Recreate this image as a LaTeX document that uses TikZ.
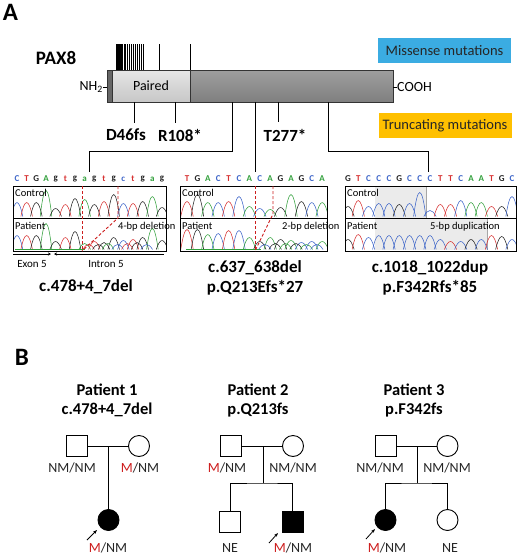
\documentclass[tikz,border=0pt]{standalone}
\usepackage{fontspec}
\setmainfont{Carlito}
\usetikzlibrary{arrows.meta}

\definecolor{seqA}{RGB}{50,160,60}
\definecolor{seqC}{RGB}{60,100,200}
\definecolor{seqG}{RGB}{35,35,35}
\definecolor{seqT}{RGB}{215,50,50}
\definecolor{missblue}{RGB}{59,172,226}
\definecolor{truncorange}{RGB}{255,192,0}
\definecolor{mutred}{RGB}{205,30,30}

\newcommand\mutM{\textcolor{mutred}{M}}

% one trace of a chromatogram: x of first peak, baseline, spacing, colour/height list
\newcommand\chromtrace[4]{%
  \foreach \pcol/\pht [count=\i] in {#4}{
    \pgfmathsetmacro\px{#1+(\i-1)*#3}
    \draw[\pcol, line width=0.55pt] (\px-0.6*#3,#2) .. controls (\px-0.2*#3,#2-1.33*\pht) and (\px+0.2*#3,#2-1.33*\pht) .. (\px+0.6*#3,#2);
  }}

% the called bases above a chromatogram
\newcommand\seqletters[5]{%
  \foreach \lcol/\lchar [count=\i] in {#5}
    \node[seqbase, text=\lcol] (#1\i) at ({#2+(\i-1)*#4},#3) {\lchar};}

\tikzset{
  seqbase/.style={font=\fontsize{9}{10}\selectfont\bfseries, inner sep=0pt},
  panellabel/.style={font=\fontsize{25}{27}\selectfont\bfseries},
  mutlabel/.style={font=\fontsize{17}{19}\selectfont\bfseries},
  hgvs/.style={font=\fontsize{17}{19}\selectfont\bfseries},
  tracelabel/.style={font=\fontsize{10.5}{12}\selectfont, inner sep=1pt},
  legendbox/.style={minimum width=133pt, minimum height=25pt, inner sep=0pt, font=\fontsize{14.5}{16}\selectfont, text=black!85},
  barline/.style={draw=black!80, line width=1pt},
  stick/.style={line width=0.8pt},
  connector/.style={line width=1pt},
  cut/.style={mutred, dash pattern=on 3pt off 2pt, line width=0.9pt},
  chrombox/.style={draw, line width=1pt},
  head/.style={font=\fontsize{16.5}{18}\selectfont\bfseries},
  geno/.style={font=\fontsize{14}{16}\selectfont, text=black!85},
  male/.style={draw, rectangle, minimum size=21pt, inner sep=0pt, line width=0.9pt},
  female/.style={draw, circle, minimum size=21pt, inner sep=0pt, line width=0.9pt},
  affected/.style={fill=black},
  ped/.style={line width=1pt},
  proband/.style={-{Stealth[length=4pt,width=3pt]}, line width=0.8pt}
}

\begin{document}
\begin{tikzpicture}[x=1pt,y=-1pt]
\useasboundingbox (0,0) rectangle (520,555);

%%% panel A
\node[panellabel] (A) at (10.5,12) {A};
\node[font=\fontsize{19}{21}\selectfont\bfseries] (pax) at (56,58) {PAX8};

% protein
\draw[barline, fill=black!60] (107,70) rectangle (112,102);
\draw[barline, top color=black!10, bottom color=black!22] (112,70) rectangle (190,102);
\draw[barline, top color=black!38, bottom color=black!50] (190,70) rectangle (393,102);
\node[font=\fontsize{14}{16}\selectfont] (paired) at (151,86) {Paired};
\coordinate (barL) at (107,87);
\coordinate (barR) at (393,87);
\node[font=\fontsize{14}{16}\selectfont, anchor=east, inner sep=0pt] (nterm) at (103,87) {NH\textsubscript{2}};
\node[font=\fontsize{14}{16}\selectfont, anchor=west, inner sep=0pt] (cterm) at (397,87) {COOH};
\draw[stick] (nterm) -- (barL);
\draw[stick] (barR) -- (cterm);

% missense sites
\foreach \x in {116,117,118,119,120,121,122,124,125,127,129,131,133,135,137,139,141,143}
  \draw[line width=0.6pt] (\x,44) -- (\x,70);
\draw[stick] (159,44) -- (159,70);
\draw[stick] (190,44) -- (190,70);

% truncating sites
\node[mutlabel] (d46) at (126,135) {D46fs};
\node[mutlabel] (r108) at (180,135) {R108*};
\node[mutlabel] (t277) at (285,135) {T277*};
\coordinate (d46pos) at (134,102);
\coordinate (r108pos) at (175,102);
\coordinate (t277pos) at (278,102);
\draw[stick] (d46pos) -- (134,123);
\draw[stick] (r108pos) -- (175,123);
\draw[stick] (t277pos) -- (278,122);

% legend
\node[legendbox, fill=missblue] (miss) at (444.5,50.5) {Missense mutations};
\node[legendbox, fill=truncorange] (trunc) at (445,125.5) {Truncating mutations};

% lines down to the chromatograms
\coordinate (c1pos) at (232,102);
\coordinate (c2pos) at (255,102);
\coordinate (c3pos) at (328,102);
\coordinate (seq1) at (89,172);
\coordinate (seq2) at (255,172);
\coordinate (seq3) at (428,172);
\draw[connector] (c1pos) -- (232,151) -| (seq1);
\draw[connector] (c2pos) -- (seq2);
\draw[connector] (c3pos) -- (328,151) -| (seq3);

% chromatogram 1
\seqletters{sa}{17}{179}{9.67}{seqC/C,seqT/T,seqG/G,seqA/A,seqG/g,seqT/t,seqG/g,seqA/a,seqG/g,seqT/t,seqG/g,seqC/c,seqT/t,seqG/g,seqA/a,seqG/g}
\begin{scope}
\clip (13,186) rectangle (166,251);
\chromtrace{17}{216.5}{9.67}{seqC/14,seqT/14,seqG/14,seqA/26,seqG/8,seqT/12,seqG/18,seqA/17,seqG/12,seqT/15,seqG/22,seqC/13,seqT/13,seqG/15,seqA/20,seqG/9}
\chromtrace{17}{249.5}{9.67}{seqC/14,seqT/14,seqG/14,seqA/26,seqG/8,seqT/12,seqG/18,seqA/6,seqT/8,seqG/7,seqG/12,seqC/9,seqT/10,seqG/12,seqA/21,seqG/9}
\chromtrace{21}{249.5}{9.67}{seqA/0,seqA/0,seqA/0,seqA/0,seqA/0,seqA/0,seqA/0,seqT/5,seqG/5,seqA/6,seqC/5,seqT/6,seqG/7,seqC/5}
\end{scope}
\draw[chrombox] (13,186) rectangle (166,251);
\draw[line width=1pt] (13,218) -- (166,218);
\node[tracelabel, anchor=west] (ctl1) at (14,193) {Control};
\node[tracelabel, anchor=west] (pat1) at (14,226) {Patient};
\node[tracelabel, anchor=west] (del1) at (117,227) {4-bp deletion};
\draw[cut] (82,186) -- (82,251);
\draw[cut] (118,186) -- (118,218) -- (82,251);
\coordinate (exonL) at (13,254);
\coordinate (exonR) at (51,254);
\coordinate (intronL) at (54,254);
\coordinate (intronR) at (164,254);
\draw[-{Stealth[length=3pt,width=3pt]}, line width=0.6pt] (exonL) -- (exonR);
\draw[{Stealth[length=3pt,width=3pt]}-, line width=0.6pt] (intronL) -- (intronR);
\node[font=\fontsize{11}{13}\selectfont] (exon) at (32,264) {Exon 5};
\node[font=\fontsize{11}{13}\selectfont] (intron) at (106,264) {Intron 5};
\node[hgvs] (hg1) at (86,287) {c.478+4\_7del};

% chromatogram 2
\seqletters{sb}{187}{179}{10.4}{seqT/T,seqG/G,seqA/A,seqC/C,seqT/T,seqC/C,seqA/A,seqC/C,seqA/A,seqG/G,seqA/A,seqG/G,seqC/C,seqA/A}
\begin{scope}
\clip (180,186) rectangle (327,251);
\chromtrace{187}{216.5}{10.4}{seqT/15,seqG/22,seqA/14,seqC/14,seqT/15,seqC/20,seqA/10,seqC/8,seqA/7,seqG/9,seqA/22,seqG/15,seqC/14,seqA/14}
\chromtrace{187}{249.5}{10.4}{seqT/20,seqG/20,seqA/15,seqC/16,seqT/19,seqC/19,seqA/12,seqG/8,seqA/12,seqG/10,seqA/9,seqC/7,seqC/8,seqA/8}
\chromtrace{192}{249.5}{10.4}{seqA/0,seqA/0,seqA/0,seqA/0,seqA/0,seqA/0,seqA/0,seqC/5,seqG/6,seqA/6,seqG/6,seqA/5,seqC/5}
\end{scope}
\draw[chrombox] (180,186) rectangle (327,251);
\draw[line width=1pt] (180,218) -- (327,218);
\node[tracelabel, anchor=west] (ctl2) at (181,193) {Control};
\node[tracelabel, anchor=west] (pat2) at (181,226) {Patient};
\node[tracelabel, anchor=west] (del2) at (281,227) {2-bp deletion};
\draw[cut] (255,186) -- (255,251);
\draw[cut] (273,186) -- (273,214) -- (255,251);
\node[hgvs] (hg2a) at (255,268) {c.637\_638del};
\node[hgvs] (hg2b) at (255,288) {p.Q213Efs*27};

% chromatogram 3
\seqletters{sc}{348}{179}{10.25}{seqG/G,seqT/T,seqC/C,seqC/C,seqC/C,seqG/G,seqC/C,seqC/C,seqC/C,seqT/T,seqT/T,seqC/C,seqA/A,seqA/A,seqT/T,seqG/G,seqC/C}
\fill[black!8] (375,187) rectangle (426,217.5);
\fill[black!8] (375,218.5) rectangle (487,250);
\draw[black!35, line width=0.5pt] (426,187) -- (426,217.5);
\draw[black!35, line width=0.5pt] (487,218.5) -- (487,250);
\begin{scope}
\clip (345,186) rectangle (516,251);
\chromtrace{348}{216.5}{10.25}{seqG/10,seqT/16,seqC/10,seqC/13,seqC/13,seqG/12,seqC/13,seqC/24,seqC/6,seqT/12,seqT/12,seqC/16,seqA/14,seqA/14,seqT/10,seqG/10,seqC/20}
\chromtrace{348}{249.5}{10.25}{seqG/10,seqT/15,seqC/12,seqC/14,seqC/14,seqC/14,seqC/14,seqC/14,seqC/14,seqC/10,seqT/8,seqC/8,seqG/10,seqC/10,seqT/14,seqG/13,seqC/10}
\end{scope}
\draw[chrombox] (345,186) rectangle (516,251);
\draw[line width=1pt] (345,218) -- (516,218);
\node[tracelabel, anchor=west] (ctl3) at (346,193) {Control};
\node[tracelabel, anchor=west] (pat3) at (346,226) {Patient};
\node[tracelabel, anchor=west] (dup3) at (429,227) {5-bp duplication};
\node[hgvs] (hg3a) at (430,268) {c.1018\_1022dup};
\node[hgvs] (hg3b) at (430,288) {p.F342Rfs*85};

%%% panel B
\node[panellabel] (B) at (22,357) {B};

% patient 1
\node[head] (h1) at (107,390) {Patient 1};
\node[head] (h1s) at (107,410) {c.478+4\_7del};
\node[male] (p1f) at (76.5,446) {};
\node[female] (p1m) at (139,446) {};
\node[female, affected] (p1c) at (108.5,520) {};
\coordinate (p1u) at (108.5,446);
\draw[ped] (p1f) -- (p1m);
\draw[ped] (p1u) -- (p1c);
\node[geno] (p1fg) at (72,468) {NM/NM};
\node[geno] (p1mg) at (140,468) {\mutM/NM};
\node[geno] (p1cg) at (108,548) {\mutM/NM};
\coordinate (p1a) at (87,540);
\draw[proband] (p1a) -- (97,530);

% patient 2
\node[head] (h2) at (258,390) {Patient 2};
\node[head] (h2s) at (258,410) {p.Q213fs};
\node[male] (p2f) at (230.5,446) {};
\node[female] (p2m) at (293,446) {};
\node[male] (p2c1) at (230,522) {};
\node[male, affected] (p2c2) at (292.5,522) {};
\coordinate (p2u) at (263,446);
\coordinate (p2s) at (263,483);
\draw[ped] (p2f) -- (p2m);
\draw[ped] (p2u) -- (p2s);
\draw[ped] (p2c1.north) |- (p2s) -| (p2c2.north);
\node[geno] (p2fg) at (227,468) {\mutM/NM};
\node[geno] (p2mg) at (293,468) {NM/NM};
\node[geno] (p2c1g) at (230,548) {NE};
\node[geno] (p2c2g) at (293,548) {\mutM/NM};
\coordinate (p2a) at (269,543);
\draw[proband] (p2a) -- (278,533);

% patient 3
\node[head] (h3) at (414,390) {Patient 3};
\node[head] (h3s) at (414,410) {p.F342fs};
\node[male] (p3f) at (385.5,446) {};
\node[female] (p3m) at (447.5,446) {};
\node[female, affected] (p3c1) at (385.5,520) {};
\node[female] (p3c2) at (447.5,520) {};
\coordinate (p3u) at (417,446);
\coordinate (p3s) at (417,483);
\draw[ped] (p3f) -- (p3m);
\draw[ped] (p3u) -- (p3s);
\draw[ped] (p3c1.north) |- (p3s) -| (p3c2.north);
\node[geno] (p3fg) at (380,468) {NM/NM};
\node[geno] (p3mg) at (447,468) {NM/NM};
\node[geno] (p3c1g) at (387,548) {\mutM/NM};
\node[geno] (p3c2g) at (450,548) {NE};
\coordinate (p3a) at (366,539);
\draw[proband] (p3a) -- (375,529);
\end{tikzpicture}
\end{document}
